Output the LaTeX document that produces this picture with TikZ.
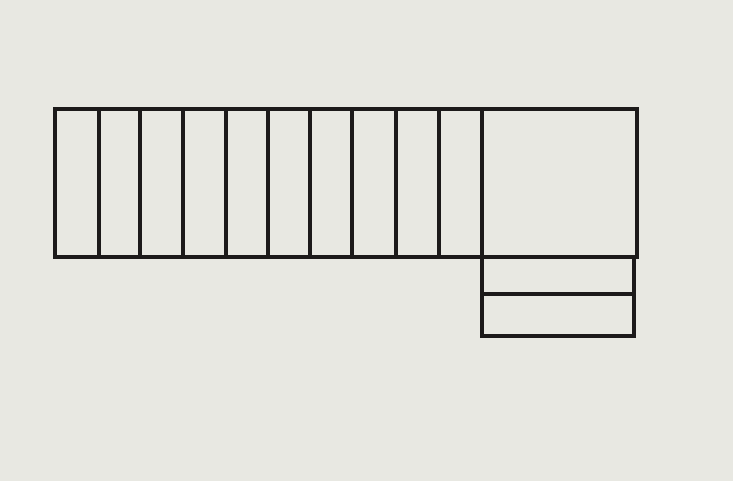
\documentclass[tikz,border=0pt]{standalone}
\definecolor{paper}{RGB}{232,232,226}
\definecolor{ink}{RGB}{28,26,26}
\begin{document}
\begin{tikzpicture}[x=1pt,y=-1pt,
  wall/.style={draw=ink,line width=3.3pt,line join=miter}]
\fill[paper] (0,0) rectangle (733,481);
\useasboundingbox (0,0) rectangle (733,481);
% main flight with landing
\draw[wall] (55,109) rectangle (637,257);
\foreach \x in {99,140,183,226,268,310,352,396,439,482}
  \draw[wall] (\x,109) -- (\x,257);
% lower steps
\draw[wall] (482,257) -- (482,336) -- (634,336) -- (634,257);
\draw[wall] (482,294) -- (634,294);
\end{tikzpicture}
\end{document}
